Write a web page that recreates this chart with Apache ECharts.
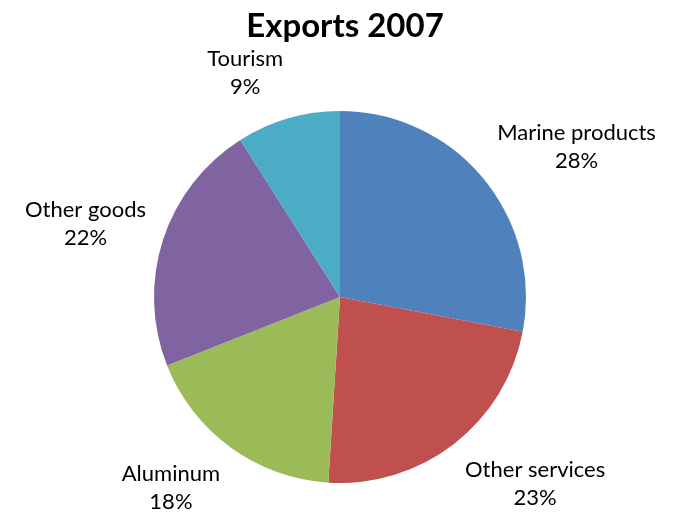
<!DOCTYPE html>
<html>
<head>
<meta charset="utf-8">
<title>Exports 2007</title>
<script src="https://cdn.jsdelivr.net/npm/echarts@6/dist/echarts.min.js"></script>
<style>
  html, body { margin: 0; padding: 0; background: #ffffff; }
  #chart { width: 677px; height: 516px; }
</style>
</head>
<body>
<div id="chart"></div>
<script>
// Export shares, 2007 (percent), clockwise from 12 o'clock
const categories = ['Marine products', 'Other services', 'Aluminum', 'Other goods', 'Tourism'];
const shares = [28, 23, 18, 22, 9];
const colors = ['#4F81BD', '#C0504D', '#9BBB59', '#8064A2', '#4BACC6'];

const CX = 340, CY = 297, R = 186, GAP = 18;

// Mid angle of each slice (radians, clockwise from top)
const total = shares.reduce((a, b) => a + b, 0);
const midAngles = [];
let acc = 0;
shares.forEach(v => {
  midAngles.push(((acc + v / 2) / total) * Math.PI * 2);
  acc += v;
});

const chart = echarts.init(document.getElementById('chart'), null, { renderer: 'canvas' });

chart.setOption({
  animation: false,
  backgroundColor: '#ffffff',
  title: {
    text: 'Exports 2007',
    left: CX,
    textAlign: 'center',
    top: 5,
    textStyle: {
      fontFamily: 'Lato',
      fontWeight: 'bold',
      fontSize: 33,
      color: '#000000'
    }
  },
  series: [{
    type: 'pie',
    center: [CX, CY],
    radius: R,
    startAngle: 90,
    clockwise: true,
    silent: true,
    data: categories.map((name, i) => ({
      name: name,
      value: shares[i],
      itemStyle: { color: colors[i] }
    })),
    label: {
      show: true,
      position: 'outside',
      formatter: '{b}\n{d}%',
      fontFamily: 'Lato',
      fontSize: 22,
      lineHeight: 28,
      color: '#000000',
      align: 'center',
      overflow: 'none'
    },
    labelLine: { show: false },
    // Put each label box just outside the rim, on the side facing its slice
    labelLayout: function (p) {
      const a = midAngles[p.dataIndex];
      const ux = Math.sin(a), uy = -Math.cos(a);
      const ax = CX + ux * (R + GAP);
      const ay = CY + uy * (R + GAP);
      const w = p.labelRect.width, h = p.labelRect.height;
      const ox = Math.sign(ux) * w / 2;
      const oy = Math.max(-h / 2, Math.min(h / 2, uy * h / 2 * 1.15));
      return {
        x: ax + ox,
        y: ay + oy,
        align: 'center',
        verticalAlign: 'middle',
        hideOverlap: false,
        moveOverlap: null
      };
    }
  }]
});
</script>
</body>
</html>
